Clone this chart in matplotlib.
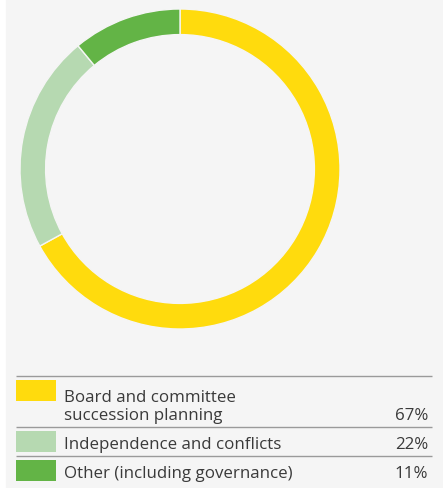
import matplotlib
matplotlib.use("Agg")
import matplotlib.pyplot as plt
from matplotlib.patches import Rectangle

labels = ["Board and committee\nsuccession planning", "Independence and conflicts", "Other (including governance)"]
shares = [67, 22, 11]
colors = ["#ffdb0d", "#b6d9b1", "#63b446"]

W, H = 443, 489
bg = "#f5f5f5"

fig = plt.figure(figsize=(W / 100, H / 100), dpi=100)
fig.patch.set_facecolor("white")

# full-figure axes in pixel coordinates
base = fig.add_axes([0, 0, 1, 1])
base.set_xlim(0, W)
base.set_ylim(H, 0)
base.axis("off")
base.add_patch(Rectangle((6, 0), W - 6, H, color=bg, zorder=0))

# donut
ax = fig.add_axes([20 / W, (H - 330) / H, 320 / W, 320 / H])
ax.pie(shares, colors=colors, startangle=90, counterclock=False, radius=1,
       wedgeprops=dict(width=0.16, edgecolor="#f5f5f5", linewidth=1))
ax.set_xlim(-1, 1)
ax.set_ylim(-1, 1)
ax.axis("off")

# legend table
row_top = [377, 428, 457]
baselines = [420, 449, 478]
for i, (lab, s, c) in enumerate(zip(labels, shares, colors)):
    base.plot([16, 432], [row_top[i], row_top[i]], color="#9a9a9a", lw=1, solid_capstyle="butt")
    base.add_patch(Rectangle((16, row_top[i] + 4), 40, 21, color=c, lw=0))
    base.text(64, baselines[i], lab, fontsize=12.2, family="Open Sans", color="#3a3a3a",
              va="baseline", ha="left", linespacing=1.18)
    base.text(428, baselines[i], f"{s}%", fontsize=12.2, family="Open Sans", color="#3a3a3a",
              va="baseline", ha="right")

fig.savefig("out.png", dpi=100, facecolor=fig.get_facecolor())
